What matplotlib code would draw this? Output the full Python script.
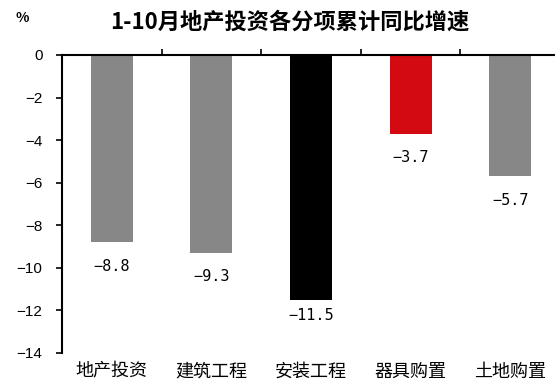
import matplotlib
matplotlib.use("Agg")
import matplotlib.pyplot as plt

plt.rcParams['font.family'] = ['Noto Sans CJK SC', 'DejaVu Sans']

# data
categories = ['地产投资', '建筑工程', '安装工程', '器具购置', '土地购置']
values = [-8.8, -9.3, -11.5, -3.7, -5.7]
colors = ['#878787', '#878787', '#000000', '#d40a12', '#878787']
title = '1-10月地产投资各分项累计同比增速'

fig = plt.figure(figsize=(5.55, 3.84), dpi=100)
ax = fig.add_axes([62 / 555, 31 / 384, 498 / 555, 298 / 384])

x = list(range(len(categories)))
ax.bar(x, values, width=0.42, color=colors, zorder=2)

ax.set_xlim(-0.5, len(categories) - 0.5)
ax.set_ylim(-14, 0)
ax.set_yticks(range(-14, 1, 2))
ax.set_yticklabels([f'{v}'.replace('-', '\u2212') for v in range(-14, 1, 2)],
                   family='Liberation Sans', fontsize=11)

# category labels at the bottom, boundary ticks on the zero line
ax.set_xticks(x)
ax.set_xticklabels(categories, fontsize=13)
ax.tick_params(axis='x', which='major', length=0, pad=7)
ax.set_xticks([i + 0.5 for i in x[:-1]], minor=True)
ax.tick_params(axis='x', which='minor', top=True, bottom=False,
               direction='out', length=4, width=1.2)
ax.tick_params(axis='y', direction='out', length=4, width=1.2, pad=10)

ax.spines['bottom'].set_visible(False)
ax.spines['right'].set_visible(False)
ax.spines['top'].set_linewidth(1.5)
ax.spines['left'].set_linewidth(1.5)

# value labels under the bars
label_gap = [24, 24, 16, 24, 24]
for xi, v, g in zip(x, values, label_gap):
    ax.annotate(f'{v}'.replace('-', '\u2212'), (xi, v), xytext=(0, -g * 0.72),
                textcoords='offset points', ha='center', va='center',
                fontsize=11, family='DejaVu Sans Mono')

fig.text(290 / 555, 1 - 22 / 384, title, ha='center', va='center',
         fontsize=16, fontweight='bold')
fig.text(22 / 555, 1 - 18 / 384, '%', ha='center', va='center',
         fontsize=10, fontweight='bold')

fig.savefig('out.png', dpi=100)
